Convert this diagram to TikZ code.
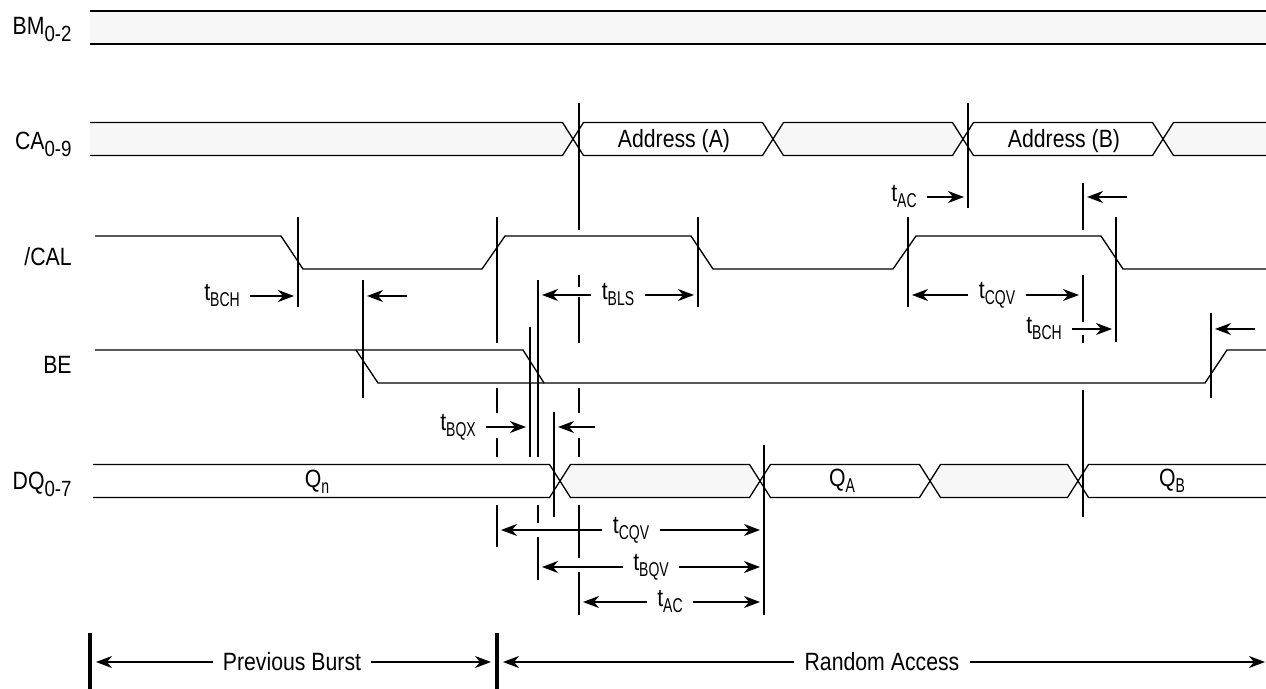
\documentclass[tikz,border=0pt]{standalone}
\usepackage{fontspec}
\setmainfont{Liberation Sans}[FakeStretch=0.85]
\newfontfamily\subfont{Liberation Sans}[FakeStretch=0.7]
\usetikzlibrary{arrows.meta}
\definecolor{busfill}{RGB}{247,247,247}
\newcommand{\sub}[1]{\raisebox{-3pt}{\subfont\fontsize{10}{10}\selectfont #1}}
\newcommand{\lsub}[1]{\raisebox{-3.5pt}{\fontsize{11}{11}\selectfont #1}}
% bus segment between two crossings: [fill](x1:x2:top)
\def\busseg[#1](#2:#3:#4){\draw[wave,fill=#1] (#2,#4+16.5) -- (#2+10.5,#4) -- (#3-10.5,#4) -- (#3,#4+16.5) -- (#3-10.5,#4+33) -- (#2+10.5,#4+33) -- cycle;}
% open on the left
\def\busleft[#1](#2:#3:#4){\fill[#1] (#2,#4) -- (#3-10.5,#4) -- (#3,#4+16.5) -- (#3-10.5,#4+33) -- (#2,#4+33) -- cycle;
  \draw[wave] (#2,#4) -- (#3-10.5,#4) -- (#3,#4+16.5) -- (#3-10.5,#4+33) -- (#2,#4+33);}
% open on the right
\def\busright[#1](#2:#3:#4){\fill[#1] (#2,#4+16.5) -- (#2+10.5,#4) -- (#3,#4) -- (#3,#4+33) -- (#2+10.5,#4+33) -- cycle;
  \draw[wave] (#3,#4) -- (#2+10.5,#4) -- (#2,#4+16.5) -- (#2+10.5,#4+33) -- (#3,#4+33);}

\tikzset{
  wave/.style={line width=0.65pt, line join=miter},
  tick/.style={line width=0.6pt},
  bar/.style={line width=2pt},
  dim/.style={line width=0.6pt, shorten >=2pt, -{Stealth[length=8pt,width=6pt,inset=2.5pt]}},
  txt/.style={inner sep=0pt, font=\fontsize{12.5}{14}\selectfont},
  dtxt/.style={txt, inner xsep=5pt},
  sig/.style={txt, anchor=base east},
}

\begin{document}
\begin{tikzpicture}[x=0.5pt, y=-0.5pt]
			%%%%% START %%%%%
			\useasboundingbox (0,0) rectangle (1266,689);
			
			% signal names
			\node[sig] (nBM) at (72,35) {BM\lsub{0-2}};
			\node[sig] (nCA) at (72,150) {CA\lsub{0-9}};
			\node[sig] (nCAL) at (72,266) {/CAL};
			\node[sig] (nBE) at (72,374) {BE};
			\node[sig] (nDQ) at (72,490) {DQ\lsub{0-7}};
			
			% BM
			\fill[busfill] (90,11) rectangle (1266,44);
			\draw[wave] (90,11) -- (1266,11) (90,44) -- (1266,44);
			
			% CA
			\busleft[busfill](90:573:122.5)
			\busseg[white](573:773:122.5)
			\busseg[busfill](773:963:122.5)
			\busseg[white](963:1163:122.5)
			\busright[busfill](1163:1266:122.5)
			\node[txt, anchor=base] (adrA) at (674,148) {Address (A)};
			\node[txt, anchor=base] (adrB) at (1064,148) {Address (B)};
			
			% /CAL
			\draw[wave] (95,236) -- (281,236) -- (303,269) -- (482,269) -- (505,236) -- (691,236) -- (713,269)
			  -- (893,269) -- (916,236) -- (1101,236) -- (1123,269) -- (1266,269);
			
			% BE
			\draw[wave] (95,350) -- (523,350) -- (544,383);
			\draw[wave] (356,350) -- (378,383) -- (1205,383) -- (1227,350) -- (1266,350);
			
			% DQ
			\busleft[white](93:560:464.5)
			\busseg[busfill](560:760:464.5)
			\busseg[white](760:930:464.5)
			\busseg[busfill](930:1078:464.5)
			\busright[white](1078:1266:464.5)
			\node[txt, anchor=base] (qn) at (317,488) {Q\sub{n}};
			\node[txt, anchor=base] (qa) at (842,487) {Q\sub{A}};
			\node[txt, anchor=base] (qb) at (1172,487) {Q\sub{B}};
			
			% reference lines
			\coordinate (casA) at (579,103);
			\coordinate (calR1) at (497,217);
			\coordinate (beF2) at (530,327);
			\coordinate (bqv) at (538,280);
			\coordinate (dqA) at (554,412);
			\coordinate (calF1) at (298,217);
			\coordinate (beF1) at (363,280);
			\coordinate (beR) at (1211,313);
			\coordinate (calF2) at (698,217);
			\coordinate (calR2) at (908,217);
			\coordinate (cqvB) at (1083,183);
			\coordinate (calF3) at (1116,217);
			\coordinate (casB) at (968,103);
			\coordinate (dqV) at (764,445);
			\coordinate (bar1) at (90,633);
			\coordinate (bar2) at (497,633);
			\coordinate (rend) at (1266,662);
			
			\draw[tick] (579,103) -- (579,230) (579,275) -- (579,287) (579,297) -- (579,343) (579,388) -- (579,413)
			  (579,438) -- (579,457) (579,505) -- (579,558) (579,572) -- (579,615);
			\draw[tick] (497,217) -- (497,343) (497,388) -- (497,413) (497,438) -- (497,457) (497,505) -- (497,547);
			\draw[tick] (530,327) -- (530,457);
			\draw[tick] (538,280) -- (538,457) (538,505) -- (538,523) (538,537) -- (538,580);
			\draw[tick] (554,412) -- (554,517);
			\draw[tick] (298,217) -- (298,307);
			\draw[tick] (363,280) -- (363,398);
			\draw[tick] (1211,313) -- (1211,398);
			\draw[tick] (698,217) -- (698,307);
			\draw[tick] (908,217) -- (908,307);
			\draw[tick] (1083,183) -- (1083,230) (1083,275) -- (1083,322) (1083,335) -- (1083,343) (1083,390) -- (1083,517);
			\draw[tick] (1116,217) -- (1116,342);
			\draw[tick] (968,103) -- (968,208);
			\draw[tick] (764,445) -- (764,615);
			
			% timings
			\node[dtxt] (tBCHa) at (222,296) {t\sub{BCH}};
			\draw[dim] (tBCHa) -- (calF1 |- tBCHa);
			\draw[dim] (407,296) -- (beF1 |- tBCHa);
			
			\node[dtxt] (tBLS) at (618,295) {t\sub{BLS}};
			\draw[dim] (tBLS) -- (bqv |- tBLS);
			\draw[dim] (tBLS) -- (calF2 |- tBLS);
			
			\node[dtxt] (tACa) at (904,197) {t\sub{AC}};
			\draw[dim] (tACa) -- (casB |- tACa);
			\draw[dim] (1127,197) -- (cqvB |- tACa);
			
			\node[dtxt] (tCQVa) at (997,295) {t\sub{CQV}};
			\draw[dim] (tCQVa) -- (calR2 |- tCQVa);
			\draw[dim] (tCQVa) -- (cqvB |- tCQVa);
			
			\node[dtxt] (tBCHb) at (1044,329) {t\sub{BCH}};
			\draw[dim] (tBCHb) -- (calF3 |- tBCHb);
			\draw[dim] (1255,329) -- (beR |- tBCHb);
			
			\node[dtxt] (tBQX) at (458,427) {t\sub{BQX}};
			\draw[dim] (tBQX) -- (beF2 |- tBQX);
			\draw[dim] (595,427) -- (dqA |- tBQX);
			
			\node[dtxt] (tCQVb) at (631,530) {t\sub{CQV}};
			\draw[dim] (tCQVb) -- (calR1 |- tCQVb);
			\draw[dim] (tCQVb) -- (dqV |- tCQVb);
			
			\node[dtxt] (tBQV) at (651,567) {t\sub{BQV}};
			\draw[dim] (tBQV) -- (bqv |- tBQV);
			\draw[dim] (tBQV) -- (dqV |- tBQV);
			
			\node[dtxt] (tACb) at (670,602) {t\sub{AC}};
			\draw[dim] (tACb) -- (casA |- tACb);
			\draw[dim] (tACb) -- (dqV |- tACb);
			
			% bursts
			\draw[bar] (90,633) -- (90,689);
			\draw[bar] (497,633) -- (497,689);
			\node[dtxt] (prev) at (292,662) {Previous Burst};
			\draw[dim, shorten >=3pt] (prev) -- (bar1 |- prev);
			\draw[dim, shorten >=3pt] (prev) -- (bar2 |- prev);
			\node[dtxt] (rand) at (882,662) {Random Access};
			\draw[dim, shorten >=3pt] (rand) -- (bar2 |- rand);
			\draw[dim, shorten >=0.5pt] (rand) -- (rend);
			
			%%%%% END %%%%%
\end{tikzpicture}
\end{document}
